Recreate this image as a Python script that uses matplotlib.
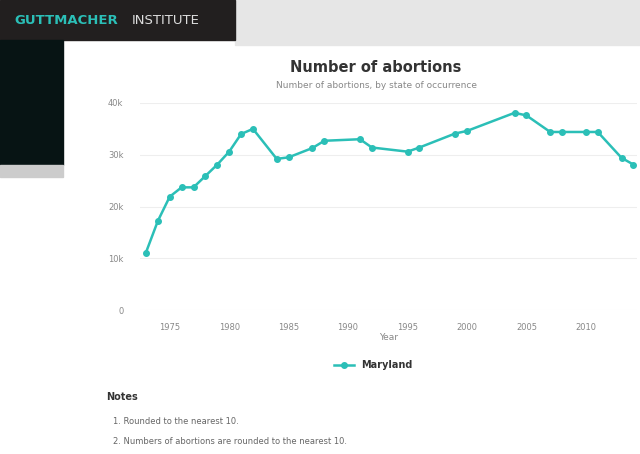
import matplotlib
matplotlib.use("Agg")
import matplotlib.pyplot as plt
from matplotlib.patches import Rectangle

years = [1973,1974,1975,1976,1977,1978,1979,1980,1981,1982,1984,1985,1987,1988,1991,1992,1995,1996,1999,2000,2004,2005,2007,2008,2010,2011,2013,2014]
values = [11100,17200,21900,23700,23700,25900,28100,30600,34000,35000,29200,29500,31300,32700,33000,31400,30600,31400,34100,34600,38100,37600,34400,34400,34400,34400,29400,28100]
xticks = [1975,1980,1985,1990,1995,2000,2005,2010]
yticks = [0,10000,20000,30000,40000]
ylabels = ["0","10k","20k","30k","40k"]
teal = "#2bbfb7"

fig = plt.figure(figsize=(6.4,4.54), dpi=100)
fig.patch.set_facecolor("white")
W,H = 640,454
def rect(x,y,w,h,c):
    fig.patches.append(Rectangle((x/W,1-(y+h)/H),w/W,h/H,transform=fig.transFigure,color=c,zorder=0))
rect(235,0,405,45,"#e6e6e6")
rect(0,0,235,40,"#221f1f")
rect(0,40,63,125,"#071414")
rect(0,165,63,12,"#cccccc")
fig.text(14/W,1-20/H,"GUTTMACHER",color=teal,fontsize=9.5,fontweight="bold",va="center",family="DejaVu Sans")
fig.text(132/W,1-20/H,"INSTITUTE",color="#dddddd",fontsize=9.5,va="center",family="DejaVu Sans")
fig.text(376/W,1-67/H,"Number of abortions",ha="center",va="center",fontsize=10.5,fontweight="bold",color="#333333")
fig.text(376/W,1-86/H,"Number of abortions, by state of occurrence",ha="center",va="center",fontsize=6.5,color="#888888")

ax = fig.add_axes([140/W,1-310/H,(637-140)/W,(310-103)/H])
ax.plot(years,values,color=teal,lw=1.8,marker="o",ms=4)
ax.set_xlim(1972.5,2014.3)
ax.set_ylim(0,40000)
ax.set_xticks(xticks)
ax.set_xticklabels([str(t) for t in xticks],fontsize=6,color="#888888")
ax.set_yticks(yticks)
ax.set_yticklabels(ylabels,fontsize=6,color="#888888")
ax.grid(axis="y",color="#eeeeee",lw=0.8)
for s in ax.spines.values(): s.set_visible(False)
ax.tick_params(axis="x",length=0,pad=9)
ax.tick_params(axis="y",length=0,pad=12)
ax.set_xlabel("Year",fontsize=6.5,color="#888888",labelpad=1)
ax.legend(["Maryland"],loc="upper center",bbox_to_anchor=(0.47,-0.2),frameon=False,prop={"size":7,"weight":"bold"},labelcolor="#333333")
fig.text(106/W,1-397/H,"Notes",fontsize=7,fontweight="bold",color="#333333",va="center")
fig.text(113/W,1-421/H,"1. Rounded to the nearest 10.",fontsize=6,color="#666666",va="center")
fig.text(113/W,1-441/H,"2. Numbers of abortions are rounded to the nearest 10.",fontsize=6,color="#666666",va="center")
fig.savefig("out.png",dpi=100)
